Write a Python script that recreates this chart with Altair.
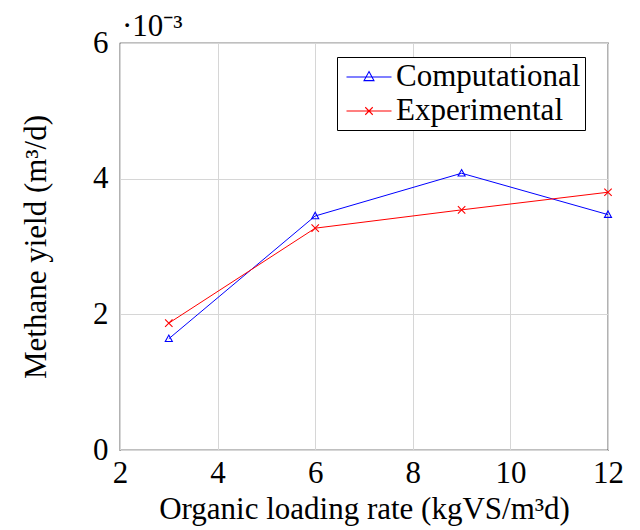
import altair as alt
import pandas as pd

olr = [3, 6, 9, 12]
computational = [0.00164, 0.00345, 0.00408, 0.00347]
experimental = [0.00187, 0.00327, 0.00354, 0.00380]
series_names = ["Computational", "Experimental"]
colors = ["#0000ff", "#ff0000"]

rows = []
for x, c, e in zip(olr, computational, experimental):
    rows.append({"olr": x, "yield": c, "series": "Computational"})
    rows.append({"olr": x, "yield": e, "series": "Experimental"})
df = pd.DataFrame(rows)

FONT = "Liberation Serif"
FS = 31

tri = "M0,-1L0.95,0.75L-0.95,0.75Z"
xmark = "M-1,-1L1,1M-1,1L1,-1"
# legend symbols: a short line with the marker in its middle
leg_tri = "M-0.7,0H2.3M0.8,-0.36L1.13,0.24L0.47,0.24Z"
leg_x = "M-0.7,0H2.3M0.55,-0.25L1.05,0.25M0.55,0.25L1.05,-0.25"

xenc = alt.X("olr:Q", scale=alt.Scale(domain=[2, 12], nice=False),
             axis=alt.Axis(values=[2, 4, 6, 8, 10, 12], title="Organic loading rate (kgVS/m³d)",
                           titlePadding=6, labelPadding=8))
yenc = alt.Y("yield:Q", scale=alt.Scale(domain=[0, 0.006], nice=False),
             axis=alt.Axis(values=[0, 0.002, 0.004, 0.006], labelExpr="round(datum.value*1000)",
                           title="Methane yield (m³/d)", titlePadding=40, labelPadding=12))

color_noleg = alt.Color("series:N", scale=alt.Scale(domain=series_names, range=colors), legend=None)

lines = alt.Chart(df).mark_line(strokeWidth=1).encode(
    x=xenc, y=yenc, color=color_noleg, detail="series:N")

points = alt.Chart(df).mark_point(filled=False, strokeWidth=1.1, size=55, opacity=1).encode(
    x=xenc, y=yenc, color=color_noleg,
    shape=alt.Shape("series:N", scale=alt.Scale(domain=series_names, range=[tri, xmark]), legend=None))

leg_props = dict(title=None, orient="none", legendX=217, legendY=14,
                 symbolSize=900, symbolStrokeWidth=1.1, symbolOpacity=1,
                 labelFont=FONT, labelFontSize=FS, labelColor="black",
                 rowPadding=3, padding=4, strokeColor="black",
                 fillColor="white", labelOffset=23, labelLimit=400)

legend_layer = alt.Chart(df).transform_filter("false").mark_point(filled=False).encode(
    x=xenc, y=yenc,
    color=alt.Color("series:N", scale=alt.Scale(domain=series_names, range=colors),
                    legend=alt.Legend(**leg_props)),
    shape=alt.Shape("series:N", scale=alt.Scale(domain=series_names, range=[leg_tri, leg_x]),
                    legend=alt.Legend(**leg_props)))

chart = alt.layer(lines, points, legend_layer).resolve_scale(
    color="independent", shape="independent"
).properties(
    width=488, height=407,
    title=alt.TitleParams("·10⁻³", anchor="start", frame="group", font=FONT, fontSize=FS,
                          fontWeight="normal", color="black", offset=0, dx=2, dy=16),
    autosize=alt.AutoSizeParams(type="none"),
    padding={"left": 120, "top": 43, "right": 32, "bottom": 80},
    background="white",
).configure_view(stroke="black", strokeWidth=1.2).configure_axis(
    grid=True, gridColor="#d6d6d6", gridWidth=1, domain=False, ticks=False,
    labelFont=FONT, labelFontSize=FS, labelColor="black",
    titleFont=FONT, titleFontSize=FS, titleFontWeight="normal", titleColor="black",
    labelFlush=False, labelOverlap=False,
)

chart.save("out.html", embed_options={"renderer": "svg", "actions": False})
